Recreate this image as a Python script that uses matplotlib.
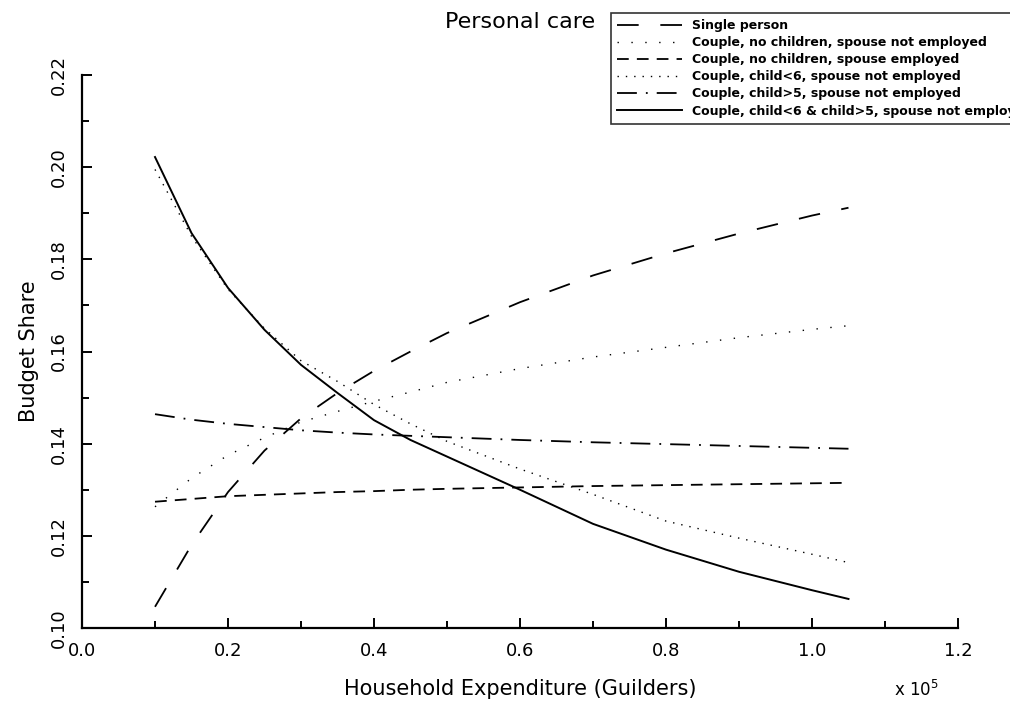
import numpy as np
import matplotlib
matplotlib.use("Agg")
import matplotlib.pyplot as plt
from matplotlib.ticker import MultipleLocator

# household expenditure in units of 1e5 guilders
expenditure = [0.10, 0.15, 0.20, 0.25, 0.30, 0.35, 0.40, 0.45, 0.50,
               0.60, 0.70, 0.80, 0.90, 1.00, 1.05]

single = [0.1046, 0.1180, 0.1295, 0.1385, 0.1455, 0.1510, 0.1558, 0.1600,
          0.1640, 0.1707, 0.1765, 0.1813, 0.1856, 0.1895, 0.1912]
couple_nokids_notemp = [0.1263, 0.1325, 0.1375, 0.1413, 0.1447, 0.1470, 0.1492,
                        0.1512, 0.1533, 0.1563, 0.1588, 0.1609, 0.1630, 0.1648, 0.1656]
couple_nokids_emp = [0.1274, 0.1280, 0.1286, 0.1289, 0.1292, 0.1295, 0.1297,
                     0.1300, 0.1302, 0.1305, 0.1308, 0.1310, 0.1312, 0.1314, 0.1315]
couple_child6 = [0.1995, 0.1850, 0.1735, 0.1650, 0.1580, 0.1535, 0.1485, 0.1443,
                 0.1405, 0.1345, 0.1290, 0.1232, 0.1195, 0.1160, 0.1142]
couple_child5 = [0.1464, 0.1452, 0.1443, 0.1436, 0.1429, 0.1424, 0.1420, 0.1417,
                 0.1414, 0.1408, 0.1403, 0.1399, 0.1395, 0.1391, 0.1389]
couple_both = [0.2022, 0.1857, 0.1738, 0.1647, 0.1571, 0.1510, 0.1451, 0.1408,
               0.1372, 0.1300, 0.1226, 0.1170, 0.1122, 0.1082, 0.1063]

labels = ["Single person",
          "Couple, no children, spouse not employed",
          "Couple, no children, spouse employed",
          "Couple, child<6, spouse not employed",
          "Couple, child>5, spouse not employed",
          "Couple, child<6 & child>5, spouse not employed"]

fig = plt.figure(figsize=(10.10, 7.03), dpi=100)
ax = fig.add_axes([0.0812, 0.1067, 0.8673, 0.7866])

ax.plot(expenditure, single, color="black", lw=1.3, dashes=(12, 12), label=labels[0])
ax.plot(expenditure, couple_nokids_notemp, color="black", lw=1.0, dashes=(1, 9), label=labels[1])
ax.plot(expenditure, couple_nokids_emp, color="black", lw=1.3, dashes=(6.5, 4.5), label=labels[2])
ax.plot(expenditure, couple_child6, color="black", lw=1.0, dashes=(1, 5), label=labels[3])
ax.plot(expenditure, couple_child5, color="black", lw=1.3, dashes=(11, 5, 1, 5), label=labels[4])
ax.plot(expenditure, couple_both, color="black", lw=1.4, label=labels[5])

ax.set_xlim(0, 1.2)
ax.set_ylim(0.10, 0.22)
ax.xaxis.set_major_locator(MultipleLocator(0.2))
ax.xaxis.set_minor_locator(MultipleLocator(0.1))
ax.yaxis.set_major_locator(MultipleLocator(0.02))
ax.yaxis.set_minor_locator(MultipleLocator(0.01))
ax.set_xticklabels([f"{v:.1f}" for v in ax.get_xticks()])
ax.set_yticklabels([f"{v:.2f}" for v in ax.get_yticks()], rotation=90, va="center")

for s in ["top", "right"]:
    ax.spines[s].set_visible(False)
for s in ["left", "bottom"]:
    ax.spines[s].set_linewidth(1.6)
ax.tick_params(which="both", direction="in", width=1.4, labelsize=13)
ax.tick_params(which="major", length=7, pad=10)
ax.tick_params(which="minor", length=5)

ax.set_xlabel("Household Expenditure (Guilders)", fontsize=15, labelpad=14)
ax.set_ylabel("Budget Share", fontsize=15, labelpad=8)
fig.text(0.885, 0.018, r"x 10$^5$", fontsize=12, ha="left", va="center")
fig.text(0.515, 0.968, "Personal care", fontsize=16, ha="center", va="center")

leg = ax.legend(loc="upper left", bbox_to_anchor=(0.605, 0.982), bbox_transform=fig.transFigure,
                prop={"weight": "bold", "size": 9}, frameon=True, fancybox=False,
                handlelength=5.2, labelspacing=0.33, borderpad=0.5, handletextpad=0.8,
                borderaxespad=0)
leg.get_frame().set_edgecolor("black")
leg.get_frame().set_linewidth(1.2)

fig.savefig("out.png", dpi=100)
